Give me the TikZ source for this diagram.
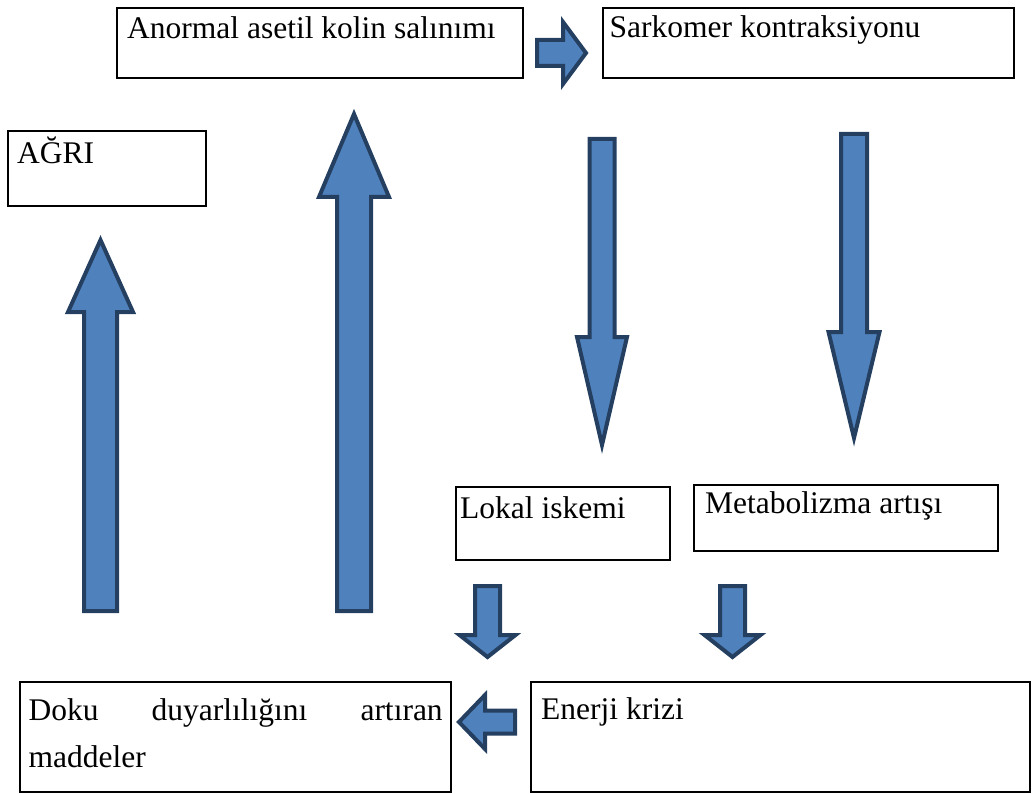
\documentclass[tikz,border=0pt]{standalone}
\usepackage{fontspec}
\setmainfont{Liberation Serif}
\usetikzlibrary{positioning}

\definecolor{arrfill}{HTML}{4F81BD}
\definecolor{arrline}{HTML}{243F60}
\newcommand{\bodyfont}{\fontsize{31.5}{47}\selectfont}

\tikzset{
  box/.style={draw=black, line width=2.5pt, rectangle, outer sep=0pt, inner sep=0pt, anchor=north west},
  boxtext/.style={anchor=north west, inner sep=0pt, font=\bodyfont, text height=22pt, text depth=8pt},
  blockarrow/.style={draw=arrline, fill=arrfill, line width=4pt, line join=miter}
}

\begin{document}
\begin{tikzpicture}[x=1pt,y=-1pt]
  % vertical block arrow: centre x, base y, head base y, tip y, shaft half, head half
  \newcommand{\varrow}[6]{
    \draw[blockarrow] ({#1-#5},#2) -- ({#1-#5},#3) -- ({#1-#6},#3) -- (#1,#4)
      -- ({#1+#6},#3) -- ({#1+#5},#3) -- ({#1+#5},#2) -- cycle;
  }
  % horizontal block arrow: centre y, base x, head base x, tip x, shaft half, head half
  \newcommand{\harrow}[6]{
    \draw[blockarrow] (#2,{#1-#5}) -- (#3,{#1-#5}) -- (#3,{#1-#6}) -- (#4,#1)
      -- (#3,{#1+#6}) -- (#3,{#1+#5}) -- (#2,{#1+#5}) -- cycle;
  }
  \useasboundingbox (0,0) rectangle (1032,794);

  % boxes
  \node[box, minimum width=406pt, minimum height=70pt,
    label={[boxtext, xshift=10pt, yshift=-8pt]north west:Anormal asetil kolin salınımı}]
    (salinim) at (117,8) {};
  \node[box, minimum width=411pt, minimum height=70pt,
    label={[boxtext, xshift=6.5pt, yshift=-7pt]north west:Sarkomer kontraksiyonu}]
    (sarkomer) at (603,8) {};
  \node[box, minimum width=198pt, minimum height=75pt,
    label={[boxtext, xshift=9pt, yshift=-10pt]north west:AĞRI}]
    (agri) at (8,131) {};
  \node[box, minimum width=214pt, minimum height=73pt,
    label={[boxtext, xshift=4pt, yshift=-9pt]north west:Lokal iskemi}]
    (iskemi) at (456,487) {};
  \node[box, minimum width=304pt, minimum height=66pt,
    label={[boxtext, xshift=11pt, yshift=-6pt]north west:Metabolizma artışı}]
    (metabolizma) at (694,485) {};
  \node[box, minimum width=431pt, minimum height=110pt,
    label={[anchor=north west, inner sep=0pt, font=\bodyfont, text width=414pt, align=left,
      xshift=8.5pt, yshift=-16.5pt]north west:Doku\hfill duyarlılığını\hfill artıran\\maddeler}]
    (doku) at (20,682) {};
  \node[box, minimum width=499pt, minimum height=110pt,
    label={[boxtext, xshift=10pt, yshift=-15pt]north west:Enerji krizi}]
    (enerji) at (531,682) {};

  % arrows
  \harrow{53}{537}{563}{586}{13}{31}
  \varrow{100.5}{611}{312}{240}{16.5}{32.5}
  \varrow{354}{611}{197}{114}{17}{35}
  \varrow{602}{139}{337}{445}{12.5}{25}
  \varrow{854}{134}{332}{438}{13}{25.5}
  \varrow{487.5}{586}{635}{657}{12.5}{28}
  \varrow{732.5}{586}{635}{657}{12.5}{28}
  \harrow{722}{515}{485}{459}{11.5}{27}
\end{tikzpicture}
\end{document}
